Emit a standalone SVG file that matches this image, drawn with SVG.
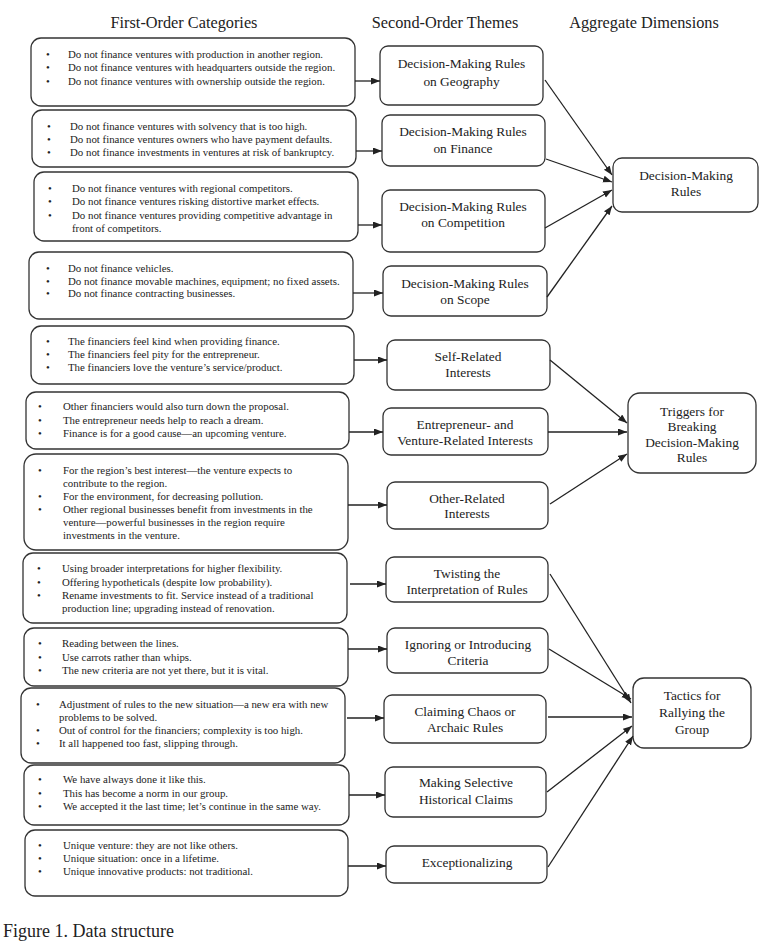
<svg xmlns="http://www.w3.org/2000/svg" width="772" height="951" viewBox="0 0 772 951">
<defs>
<marker id="ah" markerWidth="10" markerHeight="8" refX="9" refY="3.5" orient="auto" markerUnits="userSpaceOnUse">
<path d="M0,0 L9,3.5 L0,7 z" fill="#222"/>
</marker>
<style>
.hd{font-family:"Liberation Serif","Times New Roman",serif;font-size:16.3px;fill:#222;text-anchor:middle}
.cap{font-family:"Liberation Serif","Times New Roman",serif;font-size:18px;fill:#222}
.bx{fill:#fff;stroke:#333;stroke-width:1.3}
.t{font-family:"Liberation Serif","Times New Roman",serif;font-size:10.85px;fill:#222}
.m{font-family:"Liberation Serif","Times New Roman",serif;font-size:13.4px;fill:#222;text-anchor:middle}
.cn line{stroke:#222;stroke-width:1.3;marker-end:url(#ah)}
</style>
</defs>
<rect width="772" height="951" fill="#fff"/>
<text class="hd" x="184" y="28">First-Order Categories</text>
<text class="hd" x="445" y="28">Second-Order Themes</text>
<text class="hd" x="644" y="28">Aggregate Dimensions</text>

<g id="c1"><rect class="bx" x="31" y="38" width="324" height="68" rx="10"/>
<text class="t"><tspan x="46" y="57.5">•</tspan><tspan x="68" y="57.5">Do not finance ventures with production in another region.</tspan><tspan x="46" y="71">•</tspan><tspan x="68" y="71">Do not finance ventures with headquarters outside the region.</tspan><tspan x="46" y="84.5">•</tspan><tspan x="68" y="84.5">Do not finance ventures with ownership outside the region.</tspan></text></g>

<g id="c2"><rect class="bx" x="32" y="110" width="324" height="57" rx="10"/>
<text class="t"><tspan x="47" y="130">•</tspan><tspan x="70" y="130">Do not finance ventures with solvency that is too high.</tspan><tspan x="47" y="143">•</tspan><tspan x="70" y="143">Do not finance ventures owners who have payment defaults.</tspan><tspan x="47" y="156">•</tspan><tspan x="70" y="156">Do not finance investments in ventures at risk of bankruptcy.</tspan></text></g>

<g id="c3"><rect class="bx" x="34" y="172" width="324" height="69" rx="10"/>
<text class="t"><tspan x="48" y="192">•</tspan><tspan x="72" y="192">Do not finance ventures with regional competitors.</tspan><tspan x="48" y="205">•</tspan><tspan x="72" y="205">Do not finance ventures risking distortive market effects.</tspan><tspan x="48" y="219">•</tspan><tspan x="72" y="219">Do not finance ventures providing competitive advantage in</tspan><tspan x="72" y="232">front of competitors.</tspan></text></g>

<g id="c4"><rect class="bx" x="29" y="252" width="324" height="67" rx="10"/>
<text class="t"><tspan x="46" y="272">•</tspan><tspan x="68" y="272">Do not finance vehicles.</tspan><tspan x="46" y="285">•</tspan><tspan x="68" y="285">Do not finance movable machines, equipment; no fixed assets.</tspan><tspan x="46" y="297">•</tspan><tspan x="68" y="297">Do not finance contracting businesses.</tspan></text></g>

<g id="c5"><rect class="bx" x="31" y="326" width="323" height="58" rx="10"/>
<text class="t"><tspan x="46" y="345">•</tspan><tspan x="68" y="345">The financiers feel kind when providing finance.</tspan><tspan x="46" y="358">•</tspan><tspan x="68" y="358">The financiers feel pity for the entrepreneur.</tspan><tspan x="46" y="371">•</tspan><tspan x="68" y="371">The financiers love the venture’s service/product.</tspan></text></g>

<g id="c6"><rect class="bx" x="26" y="392" width="323" height="57" rx="10"/>
<text class="t"><tspan x="38" y="410">•</tspan><tspan x="63" y="410">Other financiers would also turn down the proposal.</tspan><tspan x="38" y="424">•</tspan><tspan x="63" y="424">The entrepreneur needs help to reach a dream.</tspan><tspan x="38" y="437">•</tspan><tspan x="63" y="437">Finance is for a good cause—an upcoming venture.</tspan></text></g>

<g id="c7"><rect class="bx" x="24" y="454" width="324" height="96" rx="12"/>
<text class="t"><tspan x="38" y="474">•</tspan><tspan x="63" y="474">For the region’s best interest—the venture expects to</tspan><tspan x="63" y="487">contribute to the region.</tspan><tspan x="38" y="500">•</tspan><tspan x="63" y="500">For the environment, for decreasing pollution.</tspan><tspan x="38" y="513">•</tspan><tspan x="63" y="513">Other regional businesses benefit from investments in the</tspan><tspan x="63" y="526">venture—powerful businesses in the region require</tspan><tspan x="63" y="539">investments in the venture.</tspan></text></g>

<g id="c8"><rect class="bx" x="23" y="553" width="324" height="70" rx="10"/>
<text class="t"><tspan x="37" y="572">•</tspan><tspan x="62" y="572">Using broader interpretations for higher flexibility.</tspan><tspan x="37" y="586">•</tspan><tspan x="62" y="586">Offering hypotheticals (despite low probability).</tspan><tspan x="37" y="599">•</tspan><tspan x="62" y="599">Rename investments to fit. Service instead of a traditional</tspan><tspan x="62" y="612">production line; upgrading instead of renovation.</tspan></text></g>

<g id="c9"><rect class="bx" x="24" y="628" width="324" height="58" rx="10"/>
<text class="t"><tspan x="38" y="647">•</tspan><tspan x="62" y="647">Reading between the lines.</tspan><tspan x="38" y="661">•</tspan><tspan x="62" y="661">Use carrots rather than whips.</tspan><tspan x="38" y="674">•</tspan><tspan x="62" y="674">The new criteria are not yet there, but it is vital.</tspan></text></g>

<g id="c10"><rect class="bx" x="21" y="688" width="324" height="75" rx="10"/>
<text class="t"><tspan x="36" y="708">•</tspan><tspan x="59" y="708">Adjustment of rules to the new situation—a new era with new</tspan><tspan x="59" y="721">problems to be solved.</tspan><tspan x="36" y="734">•</tspan><tspan x="59" y="734">Out of control for the financiers; complexity is too high.</tspan><tspan x="36" y="747">•</tspan><tspan x="59" y="747">It all happened too fast, slipping through.</tspan></text></g>

<g id="c11"><rect class="bx" x="24" y="765" width="325" height="60" rx="10"/>
<text class="t"><tspan x="38" y="783">•</tspan><tspan x="63" y="783">We have always done it like this.</tspan><tspan x="38" y="797">•</tspan><tspan x="63" y="797">This has become a norm in our group.</tspan><tspan x="38" y="810">•</tspan><tspan x="63" y="810">We accepted it the last time; let’s continue in the same way.</tspan></text></g>

<g id="c12"><rect class="bx" x="25" y="830" width="323" height="66" rx="10"/>
<text class="t"><tspan x="38" y="849">•</tspan><tspan x="63" y="849">Unique venture: they are not like others.</tspan><tspan x="38" y="862">•</tspan><tspan x="63" y="862">Unique situation: once in a lifetime.</tspan><tspan x="38" y="875">•</tspan><tspan x="63" y="875">Unique innovative products: not traditional.</tspan></text></g>

<g id="t1"><rect class="bx" x="380" y="46" width="163" height="59" rx="8"/>
<text class="m"><tspan x="461.5" y="67.5">Decision-Making Rules</tspan><tspan x="461.5" y="85.5">on Geography</tspan></text></g>
<g id="t2"><rect class="bx" x="382" y="115" width="163" height="51" rx="8"/>
<text class="m"><tspan x="463" y="136">Decision-Making Rules</tspan><tspan x="463" y="153">on Finance</tspan></text></g>
<g id="t3"><rect class="bx" x="382" y="190" width="163" height="62" rx="8"/>
<text class="m"><tspan x="463" y="211">Decision-Making Rules</tspan><tspan x="463" y="227">on Competition</tspan></text></g>
<g id="t4"><rect class="bx" x="383" y="266" width="164" height="50" rx="8"/>
<text class="m"><tspan x="465" y="288">Decision-Making Rules</tspan><tspan x="465" y="304">on Scope</tspan></text></g>
<g id="t5"><rect class="bx" x="387" y="340" width="163" height="50" rx="8"/>
<text class="m"><tspan x="468" y="361">Self-Related</tspan><tspan x="468" y="377">Interests</tspan></text></g>
<g id="t6"><rect class="bx" x="383" y="408" width="165" height="47" rx="8"/>
<text class="m"><tspan x="465" y="429">Entrepreneur- and</tspan><tspan x="465" y="445">Venture-Related Interests</tspan></text></g>
<g id="t7"><rect class="bx" x="387" y="482" width="161" height="47" rx="8"/>
<text class="m"><tspan x="467" y="503">Other-Related</tspan><tspan x="467" y="518">Interests</tspan></text></g>
<g id="t8"><rect class="bx" x="386" y="557" width="162" height="45" rx="8"/>
<text class="m"><tspan x="467" y="578">Twisting the</tspan><tspan x="467" y="594">Interpretation of Rules</tspan></text></g>
<g id="t9"><rect class="bx" x="387" y="628" width="161" height="45" rx="8"/>
<text class="m"><tspan x="468" y="649">Ignoring or Introducing</tspan><tspan x="468" y="665">Criteria</tspan></text></g>
<g id="t10"><rect class="bx" x="384" y="695" width="162" height="48" rx="8"/>
<text class="m"><tspan x="465" y="716">Claiming Chaos or</tspan><tspan x="465" y="732">Archaic Rules</tspan></text></g>
<g id="t11"><rect class="bx" x="385" y="767" width="161" height="50" rx="8"/>
<text class="m"><tspan x="466" y="787">Making Selective</tspan><tspan x="466" y="804">Historical Claims</tspan></text></g>
<g id="t12"><rect class="bx" x="386" y="846" width="161" height="37" rx="8"/>
<text class="m"><tspan x="467" y="867">Exceptionalizing</tspan></text></g>

<g id="a1"><rect class="bx" x="613" y="158" width="145" height="54" rx="9"/>
<text class="m"><tspan x="686" y="180">Decision-Making</tspan><tspan x="686" y="196">Rules</tspan></text></g>
<g id="a2"><rect class="bx" x="628" y="393" width="128" height="80" rx="12"/>
<text class="m"><tspan x="692" y="416">Triggers for</tspan><tspan x="692" y="431">Breaking</tspan><tspan x="692" y="447">Decision-Making</tspan><tspan x="692" y="462">Rules</tspan></text></g>
<g id="a3"><rect class="bx" x="633" y="678" width="118" height="70" rx="11"/>
<text class="m"><tspan x="692" y="700">Tactics for</tspan><tspan x="692" y="717">Rallying the</tspan><tspan x="692" y="734">Group</tspan></text></g>

<g id="connectors" class="cn">
<line x1="355" y1="81" x2="380" y2="81"/>
<line x1="356" y1="151" x2="382" y2="151"/>
<line x1="358" y1="225" x2="382" y2="225"/>
<line x1="353" y1="293" x2="383" y2="293"/>
<line x1="354" y1="360" x2="387" y2="360"/>
<line x1="349" y1="432" x2="383" y2="432"/>
<line x1="348" y1="505" x2="387" y2="505"/>
<line x1="350" y1="584" x2="386" y2="584"/>
<line x1="348" y1="649" x2="387" y2="649"/>
<line x1="347" y1="718" x2="384" y2="718"/>
<line x1="349" y1="795" x2="385" y2="795"/>
<line x1="348" y1="866" x2="386" y2="866"/>
<line x1="545" y1="80" x2="612" y2="175"/>
<line x1="546" y1="159" x2="612" y2="182"/>
<line x1="545" y1="228" x2="612" y2="190"/>
<line x1="547" y1="297" x2="612" y2="206"/>
<line x1="550" y1="360" x2="627" y2="423"/>
<line x1="548" y1="432" x2="627" y2="432"/>
<line x1="550" y1="504" x2="627" y2="454"/>
<line x1="550" y1="574" x2="631" y2="703"/>
<line x1="549" y1="649" x2="631" y2="699"/>
<line x1="548" y1="717" x2="632" y2="717"/>
<line x1="547" y1="792" x2="632" y2="726"/>
<line x1="548" y1="867" x2="633" y2="736"/>
</g>

<text class="cap" x="3" y="937">Figure 1. Data structure</text>
</svg>
